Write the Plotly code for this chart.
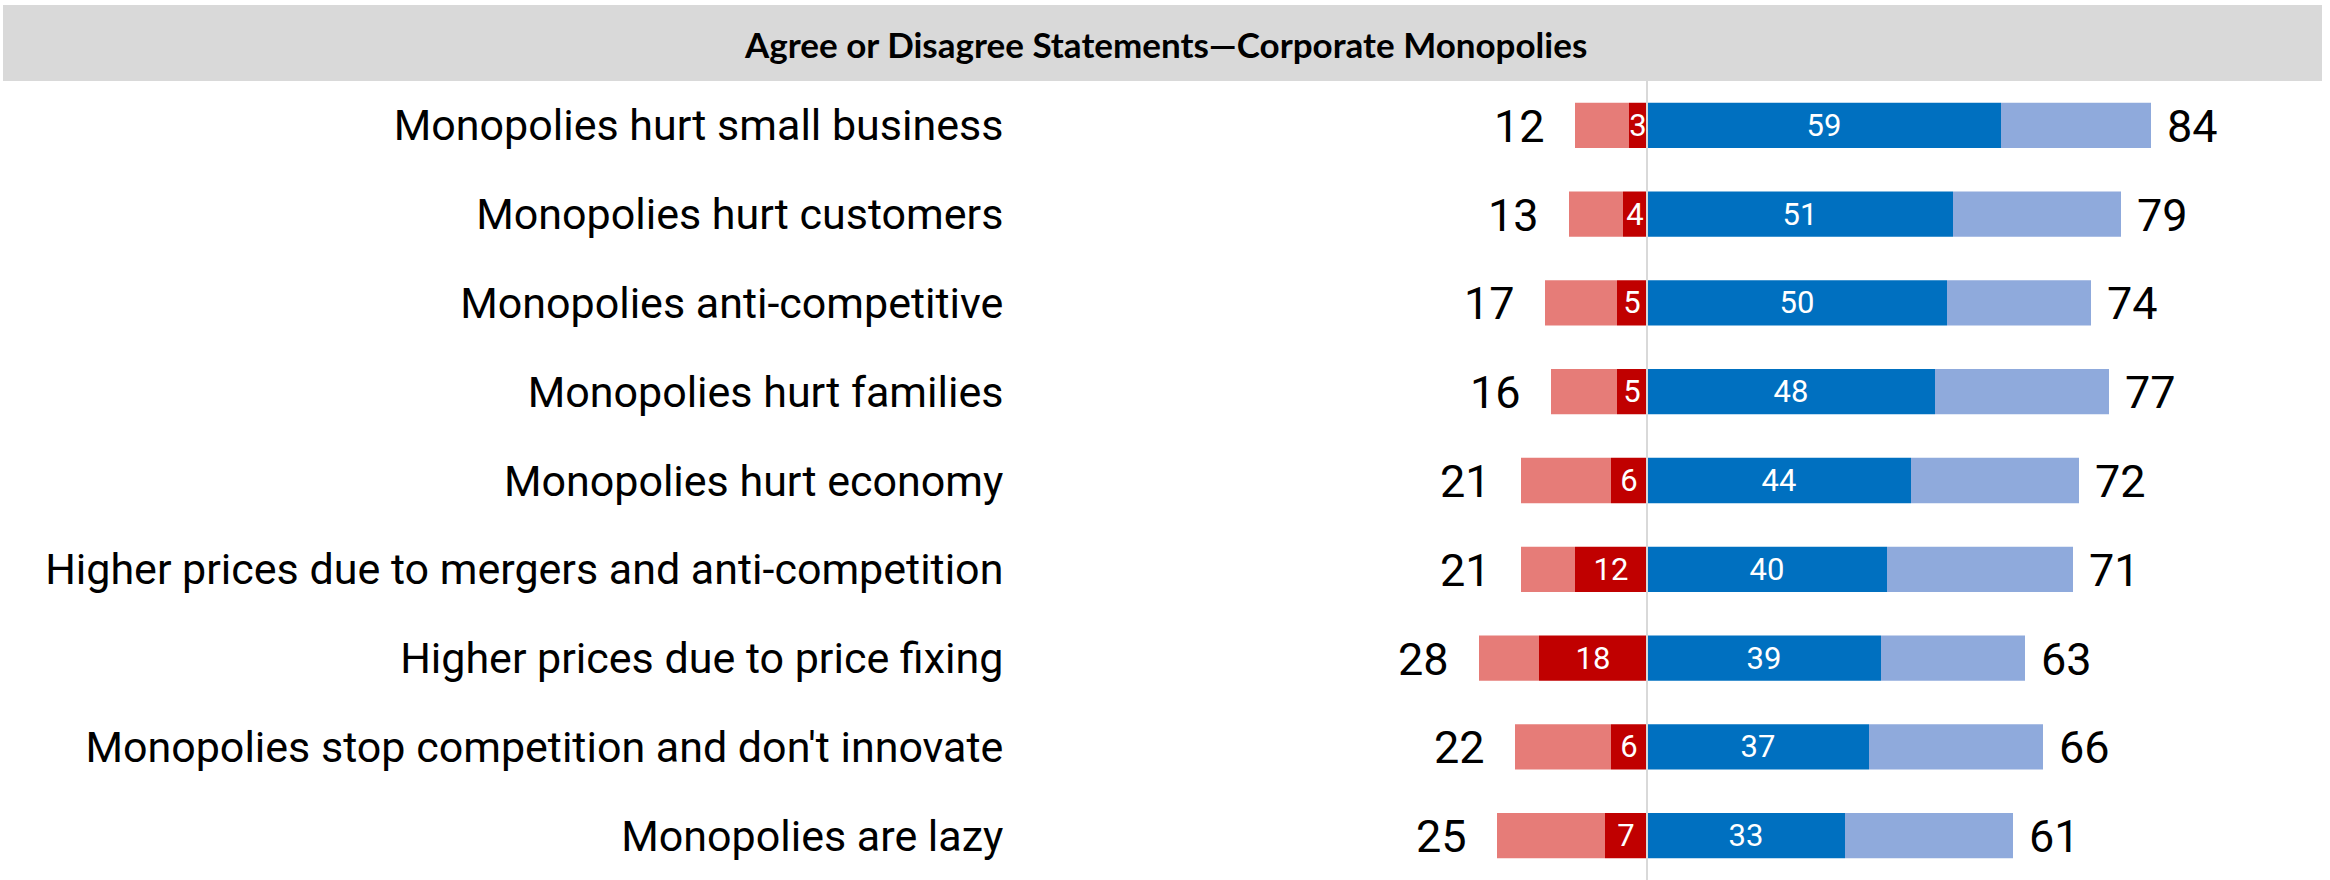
import plotly.graph_objects as go

categories = [
    "Monopolies hurt small business",
    "Monopolies hurt customers",
    "Monopolies anti-competitive",
    "Monopolies hurt families",
    "Monopolies hurt economy",
    "Higher prices due to mergers and anti-competition",
    "Higher prices due to price fixing",
    "Monopolies stop competition and don't innovate",
    "Monopolies are lazy",
]
total_disagree = [12, 13, 17, 16, 21, 21, 28, 22, 25]
strong_disagree = [3, 4, 5, 5, 6, 12, 18, 6, 7]
strong_agree = [59, 51, 50, 48, 44, 40, 39, 37, 33]
total_agree = [84, 79, 74, 77, 72, 71, 63, 66, 61]
title_text = "Agree or Disagree Statements\u2014Corporate Monopolies"

W, H = 2330, 880
ML, MR, MT, MB = 1030, 0, 81, 0
ZERO_PX = 1647
PX_PER_UNIT = 6.0
x_lo = -(ZERO_PX - ML) / PX_PER_UNIT
x_hi = (W - MR - ZERO_PX) / PX_PER_UNIT

LIGHT_RED = "#E67C78"
DARK_RED = "#C00000"
BLUE = "#0070C0"
LIGHT_BLUE = "#8FAADC"
NUM_FONT = "Roboto"

fig = go.Figure()
bw = 0.51

fig.add_trace(go.Bar(
    y=categories, x=[-(t - s) for t, s in zip(total_disagree, strong_disagree)],
    base=[-s for s in strong_disagree], orientation="h", width=bw,
    marker=dict(color=LIGHT_RED, line=dict(width=0)), hoverinfo="skip"))
fig.add_trace(go.Bar(
    y=categories, x=[-s for s in strong_disagree], base=[0] * len(categories),
    orientation="h", width=bw, marker=dict(color=DARK_RED, line=dict(width=0)),
    text=[str(s) for s in strong_disagree], textposition="inside",
    insidetextanchor="middle", constraintext="none",
    textfont=dict(color="white", size=31, family=NUM_FONT), hoverinfo="skip"))
fig.add_trace(go.Bar(
    y=categories, x=strong_agree, base=[0] * len(categories),
    orientation="h", width=bw, marker=dict(color=BLUE, line=dict(width=0)),
    text=[str(s) for s in strong_agree], textposition="inside",
    insidetextanchor="middle", constraintext="none",
    textfont=dict(color="white", size=31, family=NUM_FONT), hoverinfo="skip"))
fig.add_trace(go.Bar(
    y=categories, x=[t - s for t, s in zip(total_agree, strong_agree)],
    base=strong_agree, orientation="h", width=bw,
    marker=dict(color=LIGHT_BLUE, line=dict(width=0)), hoverinfo="skip"))

annotations = []
for c, td, ta in zip(categories, total_disagree, total_agree):
    annotations.append(dict(x=-td, y=c, xref="x", yref="y", text=str(td),
                            showarrow=False, xanchor="right", xshift=-28, yshift=-1,
                            font=dict(size=45, color="black", family=NUM_FONT)))
    annotations.append(dict(x=ta, y=c, xref="x", yref="y", text=str(ta),
                            showarrow=False, xanchor="left", xshift=14, yshift=-1,
                            font=dict(size=45, color="black", family=NUM_FONT)))

plot_w = W - ML - MR
plot_h = H - MT - MB
annotations.append(dict(x=(W / 2 - ML) / plot_w, y=1 + (MT - 44) / plot_h,
                        xref="paper", yref="paper", text="<b>" + title_text + "</b>",
                        showarrow=False, xanchor="center", yanchor="middle",
                        font=dict(size=35, color="black", family="Lato")))

shapes = [
    dict(type="rect", xref="paper", yref="paper",
         x0=(3 - ML) / plot_w, x1=(2322 - ML) / plot_w,
         y0=1 + (MT - 81) / plot_h, y1=1 + (MT - 5) / plot_h,
         fillcolor="#D9D9D9", line=dict(width=0), layer="below"),
    dict(type="line", xref="x", yref="paper", x0=0, x1=0, y0=0, y1=1,
         line=dict(color="#D9D9D9", width=2), layer="above"),
]

fig.update_layout(
    width=W, height=H, barmode="overlay", showlegend=False,
    plot_bgcolor="white", paper_bgcolor="white",
    margin=dict(l=ML, r=MR, t=MT, b=MB, pad=0),
    xaxis=dict(range=[x_lo, x_hi], showgrid=False, zeroline=False,
               showticklabels=False, ticks="", fixedrange=True),
    yaxis=dict(range=[len(categories) - 0.5, -0.5], showgrid=False,
               zeroline=False, ticks="outside", ticklen=0, tickcolor="white",
               ticklabelstandoff=17,
               tickfont=dict(size=43, color="black", family="Roboto")),
    annotations=annotations, shapes=shapes,
)

fig.write_html("out.html", config={"displayModeBar": False},
               post_script="document.body.style.margin='0';document.body.style.overflow='hidden';")
